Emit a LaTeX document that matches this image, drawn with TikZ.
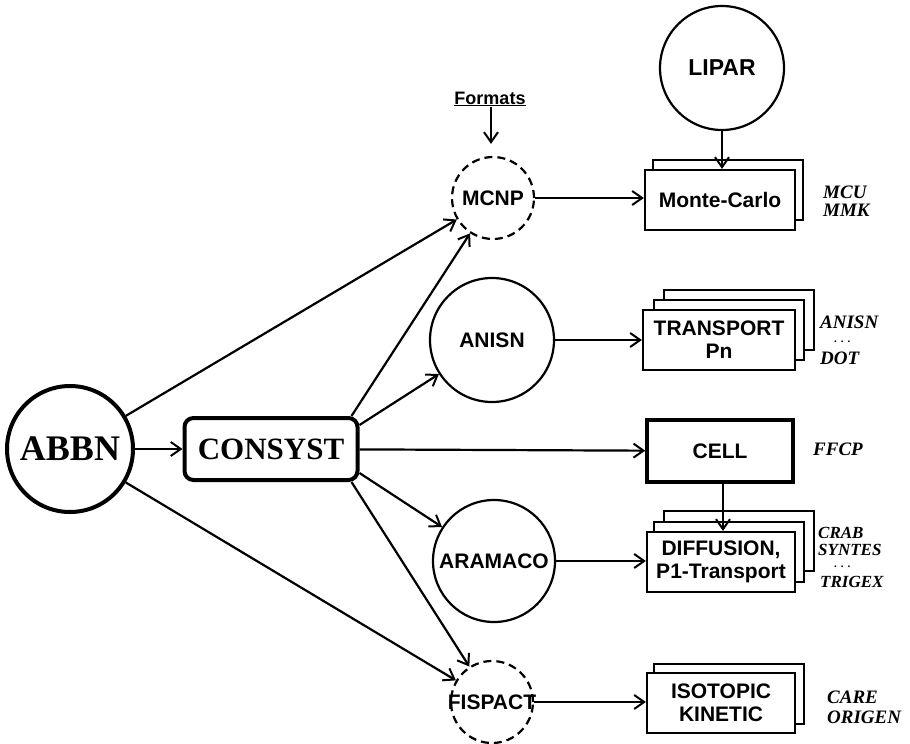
\documentclass[tikz,border=0pt]{standalone}
\usepackage{fontspec}
\setmainfont{Liberation Serif}
\setsansfont{Liberation Sans}
\usetikzlibrary{arrows.meta,calc}
\begin{document}
\begin{tikzpicture}[x=1pt,y=-1pt,
  >={Straight Barb[length=10pt,width=14pt,line width=2pt]},
  conn/.style={->,line width=2.2pt},
  sfb/.style={font=\fontsize{21}{23}\selectfont\sffamily\bfseries},
  circ/.style={circle,draw,line width=2.2pt,inner sep=0pt,minimum size=#1},
  dcirc/.style={circle,draw,line width=2.2pt,dash pattern=on 8pt off 5pt,inner sep=0pt,minimum size=#1},
  box/.style={draw,line width=2.2pt,fill=white,minimum width=150pt,minimum height=60pt,inner sep=0pt,align=center,sfb},
  lab/.style={anchor=west,font=\fontsize{19}{19}\selectfont\bfseries\itshape,inner sep=0pt,text height=12.5pt,text depth=0pt},
  labs/.style={lab,font=\fontsize{17}{17}\selectfont\bfseries\itshape,text height=11.5pt},
  dots/.style={anchor=west,font=\fontsize{11}{11}\selectfont\bfseries,inner sep=0pt,text height=2pt,text depth=0pt}
]
\useasboundingbox (0,0) rectangle (910,744);

% main nodes
\node[circle,draw,line width=4pt,inner sep=0pt,minimum size=126pt,
      font=\fontsize{36}{36}\selectfont\bfseries] (abbn) at (70,449) {ABBN};
\node[draw,rounded corners=9pt,line width=4pt,minimum width=173pt,minimum height=62pt,
      inner sep=0pt,font=\fontsize{31}{31}\selectfont\bfseries] (consyst) at (271,449) {CONSYST};

% circles
\node[dcirc=82pt] (mcnp) at (493,198) {};
\node[sfb] (mcnptxt) at (mcnp) {MCNP};
\node[circ=124pt] (anisn) at (492,340) {};
\node[sfb] (anisntxt) at (anisn) {ANISN};
\node[circ=122pt] (aramaco) at (494,561) {};
\node[sfb] (aramacotxt) at (aramaco) {ARAMACO};
\node[dcirc=82pt] (fispact) at (492,702) {};
\node[sfb] (fispacttxt) at (fispact) {FISPACT};
\node[circ=124pt] (lipar) at (722,68) {};
\node[sfb,font=\fontsize{23}{23}\selectfont\sffamily\bfseries] (lipartxt) at (lipar) {LIPAR};

\node[font=\fontsize{18}{18}\selectfont\sffamily\bfseries,inner sep=1pt] (formats) at (490,99) {\underline{Formats}};

% stacked boxes
\node[box] (mcb) at (728,190) {};
\node[box] (mc) at (720,200) {Monte-Carlo};

\node[box] (trb2) at (739,320) {};
\node[box] (trb1) at (729,330) {};
\node[box,minimum width=152pt] (tr) at (719,340) {TRANSPORT\\Pn};

\node[box,line width=3.5pt,minimum width=146pt,minimum height=62pt] (cell) at (720,451) {CELL};

\node[box] (dfb2) at (739,541) {};
\node[box] (dfb1) at (729,552) {};
\node[box,minimum width=148pt] (df) at (721,562) {DIFFUSION,\\P1-Transport};

\node[box] (isb) at (729,694) {};
\node[box,minimum width=148pt] (is) at (721,703) {ISOTOPIC\\KINETIC};

% labels
\node[lab] (l1) at (823,192) {MCU};
\node[lab] (l2) at (823,210) {MMK};
\node[lab] (l3) at (820,322) {ANISN};
\node[dots] (l4) at (834,341) {.\hspace{4pt}.\hspace{4pt}.};
\node[lab] (l5) at (820,358) {DOT};
\node[lab] (l6) at (813,449) {FFCP};
\node[labs] (l7) at (818,533) {CRAB};
\node[labs] (l8) at (818,550) {SYNTES};
\node[dots] (l9) at (834,566) {.\hspace{4pt}.\hspace{4pt}.};
\node[labs] (l10) at (820,582) {TRIGEX};
\node[lab] (l11) at (827,697) {CARE};
\node[lab] (l12) at (827,717) {ORIGEN};

% connectors
\draw[conn] (abbn) -- (consyst);
\draw[conn] (abbn) -- (mcnp);
\draw[conn] (abbn) -- (fispact);
\draw[conn] ($(consyst.north east)+(-8,0)$) -- (mcnp);
\draw[conn] ($(consyst.north east)+(0,9)$) -- (anisn);
\draw[conn] (consyst) -- (cell);
\draw[conn] ($(consyst.south east)+(0,-9)$) -- (aramaco);
\draw[conn] ($(consyst.south east)+(-8,0)$) -- (fispact);

\draw[conn] (mcnp) -- (mcnp -| mc.west);
\draw[conn] (anisn) -- (anisn -| tr.west);
\draw[conn] (aramaco) -- (aramaco -| df.west);
\draw[conn] (fispact) -- (fispact -| is.west);

\coordinate (fs) at ($(formats.south)+(1,0)$);
\draw[conn] (fs) -- ($(fs |- mcnp.north)+(0,-12)$);
\draw[conn] (lipar.south) -- (lipar.south |- mc.north);
\coordinate (cs) at ($(cell.south)+(3,0)$);
\draw[conn] (cs) -- (cs |- df.north);
\end{tikzpicture}
\end{document}
